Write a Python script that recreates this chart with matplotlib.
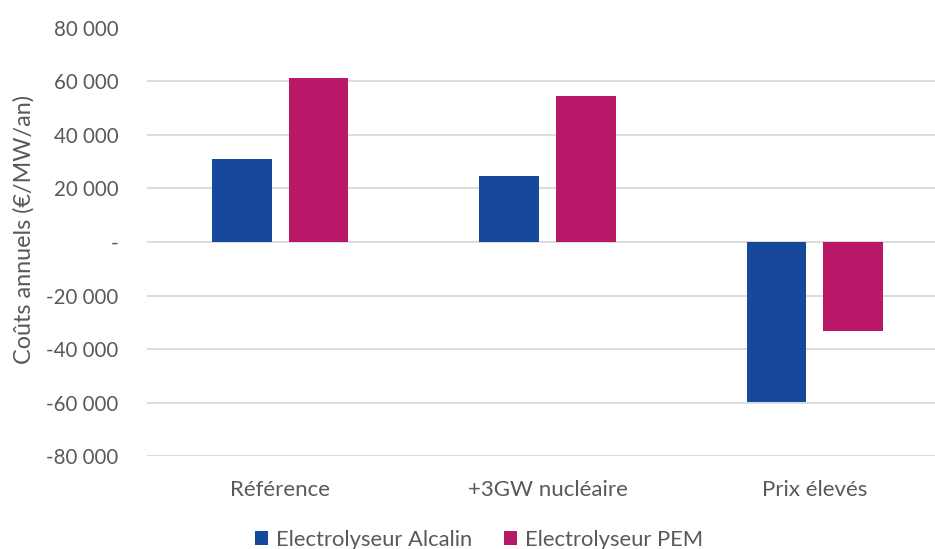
import matplotlib
matplotlib.use("Agg")
import matplotlib.pyplot as plt
import numpy as np
from matplotlib.ticker import FuncFormatter

plt.rcParams['font.family'] = ['Lato', 'DejaVu Sans']

categories = ["Référence", "+3GW nucléaire", "Prix élevés"]
alcalin = [31000, 24500, -59800]
pem = [61300, 54400, -33300]
series_names = ["Electrolyseur Alcalin", "Electrolyseur PEM"]
yticks = [-80000, -60000, -40000, -20000, 0, 20000, 40000, 60000, 80000]

blue = "#16489B"
magenta = "#B91869"
text_col = "#595959"
grid_col = "#D9D9D9"

W, H = 935, 549
fig = plt.figure(figsize=(W / 100, H / 100), dpi=100)
left, right, top, bottom = 146.7, 935, 27.5, 456.3
ax = fig.add_axes([left / W, 1 - bottom / H, (right - left) / W, (bottom - top) / H])

x = np.arange(len(categories))
bw = 0.224
off = 0.143
ax.bar(x - off, alcalin, bw, color=blue, label=series_names[0], zorder=3)
ax.bar(x + off, pem, bw, color=magenta, label=series_names[1], zorder=3)

ax.set_xlim(-0.5, 2.45)
ax.set_ylim(-80000, 80000)
ax.set_yticks(yticks)


def fmt(v, pos):
    if v == 0:
        return "-"
    s = f"{abs(int(v)):,}".replace(",", " ")
    return ("-" if v < 0 else "") + s


ax.yaxis.set_major_formatter(FuncFormatter(fmt))
ax.set_xticks(x)
ax.set_xticklabels(categories)
ax.tick_params(axis='both', length=0, colors=text_col)
ax.tick_params(axis='y', pad=20.5, labelsize=14.8)
ax.tick_params(axis='x', pad=17, labelsize=16)
for sp in ax.spines.values():
    sp.set_visible(False)
ax.yaxis.grid(True, color=grid_col, linewidth=1.3, zorder=0)
ax.set_axisbelow(True)

fig.text(24 / W, 1 - 230 / H, "Coûts annuels (€/MW/an)", rotation=90,
         ha='center', va='center', fontsize=16.8, color=text_col)

leg = fig.legend(loc='center', bbox_to_anchor=(479 / W, 1 - 540 / H), ncol=2,
                 frameon=False, fontsize=15.8, handlelength=0.6, handleheight=0.6,
                 handletextpad=0.35, columnspacing=1.45, borderaxespad=0)
for t in leg.get_texts():
    t.set_color(text_col)

fig.savefig("out.png", dpi=100)
